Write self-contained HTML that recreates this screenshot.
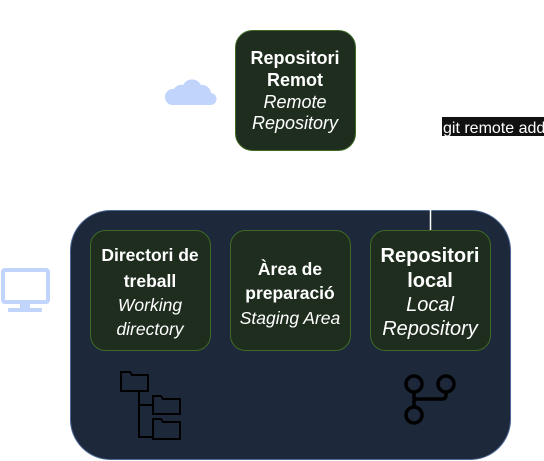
<!DOCTYPE html>
<html><head><style>body{margin:0;background:#fff}svg{display:block}text{font-family:"Liberation Sans",sans-serif;fill:#fff;text-anchor:middle}.b{font-weight:bold}.i{font-style:italic}</style></head><body>
<svg width="544" height="461" viewBox="0 0 544 461" xmlns="http://www.w3.org/2000/svg">
<rect x="70.5" y="210.5" width="440" height="249" rx="40" fill="#1e283b" stroke="#4b6894"/>
<line x1="430.5" y1="210" x2="430.5" y2="230" stroke="#fff" stroke-width="1.5"/>
<rect x="235.5" y="30.5" width="120" height="120" rx="17" fill="#1f2d1f" stroke="#3e6a26"/>
<text class="b" font-size="18" x="295" y="64">Repositori</text>
<text class="b" font-size="18" x="295" y="86">Remot</text>
<text class="i" font-size="18" x="295" y="108">Remote</text>
<text class="i" font-size="18" x="295" y="129">Repository</text>
<path d="M172 105h38a6 6 0 0 0 1-12a9 9 0 0 0-10-8a10 10 0 0 0-18 0a8 8 0 0 0-9 4a8 8 0 0 0-2 16z" fill="#c0d4fc"/>
<rect x="442" y="117" width="102" height="19" fill="#111"/>
<text font-size="16" x="443" y="133" style="fill:#fff;text-anchor:start">git remote add</text>
<rect x="90.5" y="230.5" width="120" height="120" rx="15" fill="#1f2d1f" stroke="#3e6a26"/>
<text class="b" font-size="17.5" x="150" y="261">Directori de</text>
<text class="b" font-size="17.5" x="150" y="287">treball</text>
<text class="i" font-size="17.5" x="150" y="311">Working</text>
<text class="i" font-size="17.5" x="150" y="335">directory</text>
<rect x="230.5" y="230.5" width="120" height="120" rx="15" fill="#1f2d1f" stroke="#3e6a26"/>
<text class="b" font-size="17.5" x="290" y="275">Àrea de</text>
<text class="b" font-size="17.5" x="290" y="299">preparació</text>
<text class="i" font-size="17.5" x="290" y="324">Staging Area</text>
<rect x="370.5" y="230.5" width="120" height="120" rx="15" fill="#1f2d1f" stroke="#3e6a26"/>
<text class="b" font-size="20" x="430" y="262">Repositori</text>
<text class="b" font-size="20" x="430" y="287">local</text>
<text class="i" font-size="20" x="430" y="311">Local</text>
<text class="i" font-size="20" x="430" y="335">Repository</text>
<rect x="3" y="270" width="45" height="32" rx="2" fill="none" stroke="#c0d4fc" stroke-width="4"/>
<rect x="20" y="302" width="10" height="7" fill="#c0d4fc"/>
<rect x="8" y="308" width="34" height="4" rx="1" fill="#c0d4fc"/>
<g fill="none" stroke="#000" stroke-width="2">
<path d="M121 372h9l2 3h16v16h-27z"/>
<path d="M153 396h8l2 3h17v15h-27z"/>
<path d="M153 419h8l2 3h17v17h-27z"/>
<path d="M139 391v46h14M139 405h14"/>
<circle cx="414" cy="384" r="8" stroke-width="3.5"/>
<circle cx="446" cy="384" r="8" stroke-width="3.5"/>
<circle cx="414" cy="415" r="8" stroke-width="3.5"/>
<path d="M414 392v15M446 392v3q0 4-4 4h-28" stroke-width="3.5"/>
</g>
</svg>
</body></html>
